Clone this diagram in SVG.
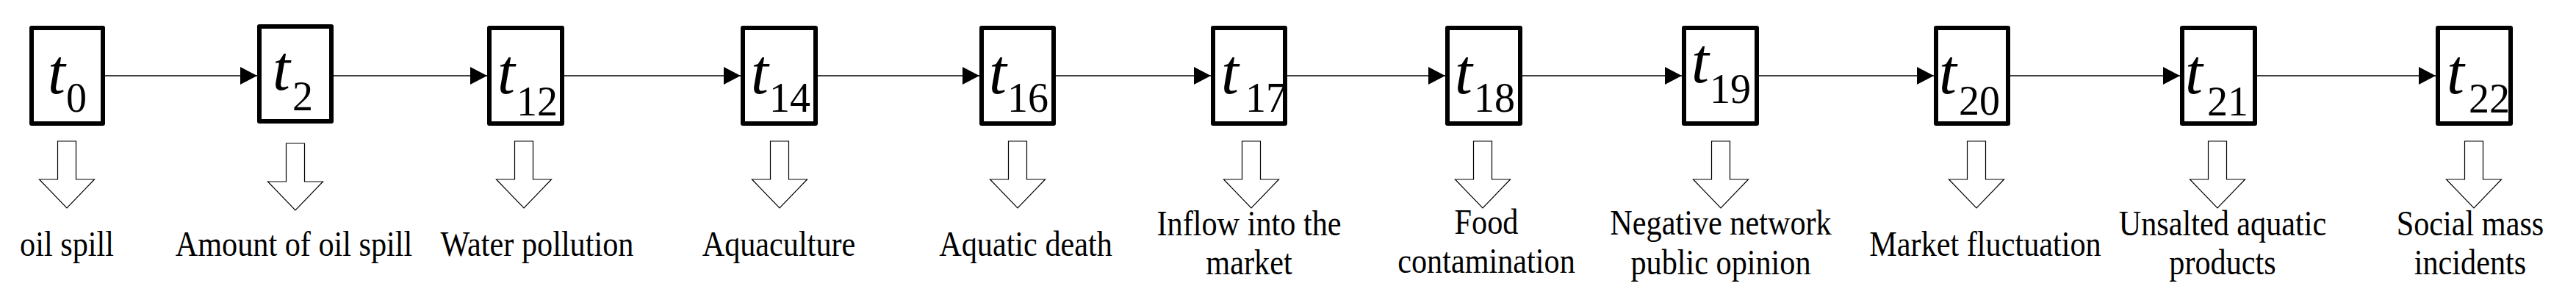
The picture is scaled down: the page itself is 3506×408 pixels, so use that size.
<svg xmlns="http://www.w3.org/2000/svg" width="3506" height="408" viewBox="0 0 3506 408">
<style>
.box{fill:#fff;stroke:#000;stroke-width:6;stroke-linejoin:round}
.t{font-family:"Liberation Serif",serif;font-style:italic;font-size:86px;fill:#000}
.s{font-family:"Liberation Serif",serif;font-style:normal;font-size:56px}
.ho{fill:#fff;stroke:#000;stroke-width:1.2}
.lb{font-family:"Liberation Serif",serif;font-size:48px;fill:#000;text-anchor:middle}
.c{stroke:#000;stroke-width:1.5;fill:none;marker-end:url(#ah)}
</style>
<defs>
<marker id="ah" markerUnits="userSpaceOnUse" markerWidth="24" markerHeight="26" refX="23" refY="12" orient="auto">
<path d="M0,0 L23,12 L0,24 Z" fill="#000"/>
</marker>
<path id="hol" class="ho" d="M-12.5,192 H12.5 V244 H37.5 L0,283 L-37.5,244 H-12.5 Z"/>
</defs>
<rect width="3506" height="408" fill="#fff"/>
<g id="connectors">
<line class="c" x1="143" y1="103" x2="350" y2="103"/>
<line class="c" x1="454" y1="103" x2="663" y2="103"/>
<line class="c" x1="768" y1="103" x2="1008" y2="103"/>
<line class="c" x1="1113" y1="103" x2="1333" y2="103"/>
<line class="c" x1="1437" y1="103" x2="1648" y2="103"/>
<line class="c" x1="1752" y1="103" x2="1967" y2="103"/>
<line class="c" x1="2072" y1="103" x2="2289" y2="103"/>
<line class="c" x1="2394" y1="103" x2="2632" y2="103"/>
<line class="c" x1="2736" y1="103" x2="2967" y2="103"/>
<line class="c" x1="3072" y1="103" x2="3315" y2="103"/>
</g>
<g id="n0"><rect class="box" x="43" y="38" width="97" height="130"/><text class="t" x="65" y="127">t<tspan class="s" x="90" y="152">0</tspan></text><use href="#hol" x="91"/><text class="lb" transform="translate(91,348) scale(0.88,1)">oil spill</text></g>
<g id="n2"><rect class="box" x="353" y="36" width="98" height="129"/><text class="t" x="371" y="122">t<tspan class="s" x="398" y="150">2</tspan></text><use href="#hol" x="300" transform="translate(102,3)"/><text class="lb" transform="translate(400,348) scale(0.88,1)">Amount of oil spill</text></g>
<g id="n12"><rect class="box" x="666" y="38" width="99" height="130"/><text class="t" x="677" y="127">t<tspan class="s" x="703" y="157">12</tspan></text><use href="#hol" x="713"/><text class="lb" transform="translate(731,348) scale(0.88,1)">Water pollution</text></g>
<g id="n14"><rect class="box" x="1011" y="38" width="99" height="130"/><text class="t" x="1022" y="127">t<tspan class="s" x="1047" y="152">14</tspan></text><use href="#hol" x="1061"/><text class="lb" transform="translate(1060,348) scale(0.88,1)">Aquaculture</text></g>
<g id="n16"><rect class="box" x="1336" y="38" width="98" height="130"/><text class="t" x="1346" y="127">t<tspan class="s" x="1371" y="152">16</tspan></text><use href="#hol" x="1385"/><text class="lb" transform="translate(1396,348) scale(0.88,1)">Aquatic death</text></g>
<g id="n17"><rect class="box" x="1651" y="38" width="98" height="130"/><text class="t" x="1662" y="127">t<tspan class="s" x="1695" y="152">17</tspan></text><use href="#hol" x="1703"/><text class="lb" transform="translate(1700,320) scale(0.88,1)">Inflow into the</text><text class="lb" transform="translate(1700,373) scale(0.88,1)">market</text></g>
<g id="n18"><rect class="box" x="1970" y="38" width="99" height="130"/><text class="t" x="1980" y="127">t<tspan class="s" x="2006" y="152">18</tspan></text><use href="#hol" x="2018"/><text class="lb" transform="translate(2023,318) scale(0.88,1)">Food</text><text class="lb" transform="translate(2023,371) scale(0.88,1)">contamination</text></g>
<g id="n19"><rect class="box" x="2292" y="38" width="99" height="130"/><text class="t" x="2302" y="112">t<tspan class="s" x="2327" y="140">19</tspan></text><use href="#hol" x="2342"/><text class="lb" transform="translate(2342,319) scale(0.88,1)">Negative network</text><text class="lb" transform="translate(2342,373) scale(0.88,1)">public opinion</text></g>
<g id="n20"><rect class="box" x="2635" y="38" width="98" height="130"/><text class="t" x="2639" y="127">t<tspan class="s" x="2666" y="156">20</tspan></text><use href="#hol" x="2690"/><text class="lb" transform="translate(2702,348) scale(0.88,1)">Market fluctuation</text></g>
<g id="n21"><rect class="box" x="2970" y="38" width="99" height="130"/><text class="t" x="2974" y="127">t<tspan class="s" x="3004" y="157">21</tspan></text><use href="#hol" x="3018"/><text class="lb" transform="translate(3025,320) scale(0.88,1)">Unsalted aquatic</text><text class="lb" transform="translate(3025,373) scale(0.88,1)">products</text></g>
<g id="n22"><rect class="box" x="3318" y="38" width="99" height="130"/><text class="t" x="3330" y="127">t<tspan class="s" x="3360" y="153">22</tspan></text><use href="#hol" x="3367"/><text class="lb" transform="translate(3362,320) scale(0.88,1)">Social mass</text><text class="lb" transform="translate(3362,373) scale(0.88,1)">incidents</text></g>
</svg>
